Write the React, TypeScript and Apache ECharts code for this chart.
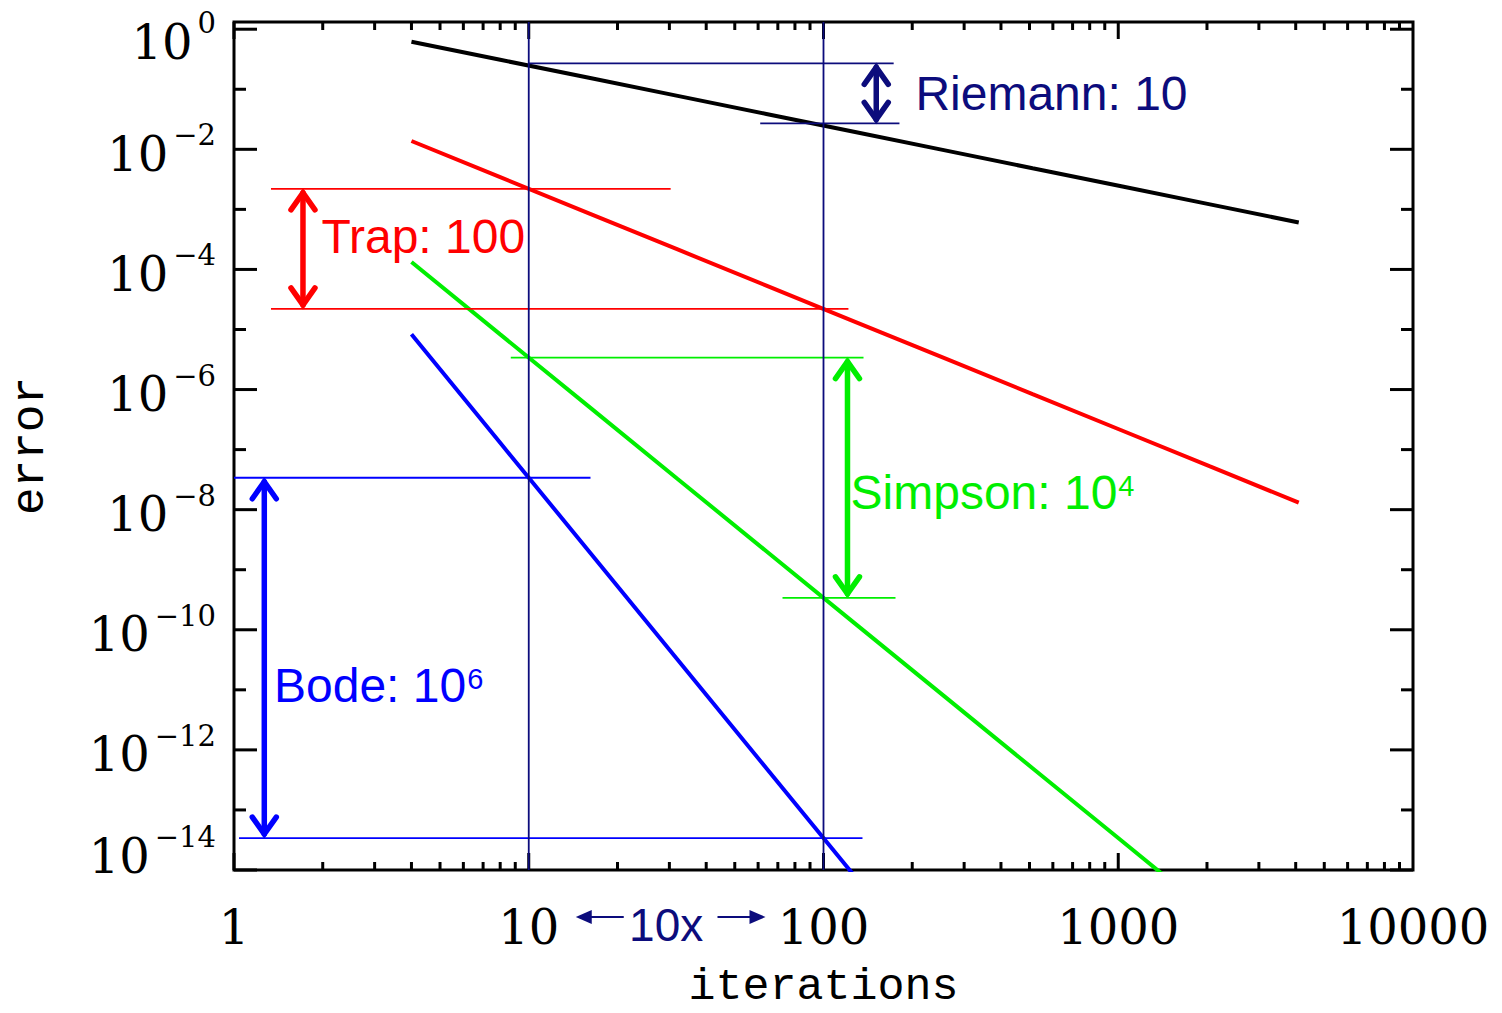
import React, { useEffect, useRef } from 'react';
import * as echarts from 'echarts';

// Iteration counts and the error of each integration rule at those counts
const iterations = [4, 8, 16, 32, 64, 128, 256, 512, 1024, 2048, 4096];
const riemannError = [0.62, 0.31, 0.155, 0.0775, 0.0388, 0.0194, 0.00969, 0.00484, 0.00242, 0.00121, 0.000605];
const trapError = [1.375e-2, 3.44e-3, 8.59e-4, 2.15e-4, 5.37e-5, 1.343e-5, 3.36e-6, 8.39e-7, 2.1e-7, 5.24e-8, 1.31e-8];
const simpsonError = [1.328e-4, 8.3e-6, 5.19e-7, 3.24e-8, 2.03e-9, 1.267e-10, 7.92e-12, 4.95e-13, 3.09e-14, 1.93e-15];
const bodeError = [8.3e-6, 1.297e-7, 2.03e-9, 3.17e-11, 4.95e-13, 7.73e-15];

// Axis tick labels
const xTickLabels = ['1', '10', '100', '1000', '10000'];
const yLabelExponents = [0, -2, -4, -6, -8, -10, -12, -14];

// Guide lines: [from iterations, to iterations, error level]
const riemannGuides = [[10, 173, 0.27], [61, 181, 0.027]];
const trapGuides = [[1.335, 30.3, 2.2e-3], [1.335, 121.5, 2.2e-5]];
const simpsonGuides = [[8.69, 136.7, 3.4e-6], [72.6, 175.5, 3.4e-10]];
const bodeGuides = [[1, 16.2, 3.4e-8], [1.04, 135.6, 3.4e-14]];
const markedIterations = [10, 100];

// Double arrows: [iterations, upper error, lower error]
const spanArrows = [[151, 0.27, 0.027], [1.714, 2.2e-3, 2.2e-5], [120.6, 3.4e-6, 3.4e-10], [1.267, 3.4e-8, 3.4e-14]];

// Notes: anchor [iterations, error], text and superscript
const noteAnchors = [[205, 0.084], [1.98, 3.5e-4], [123.5, 1.9e-8], [1.367, 1.2e-11]];
const noteText = ['Riemann: 10', 'Trap: 100', 'Simpson: 10', 'Bode: 10'];
const noteSup = ['', '', '4', '6'];

const ruleColors = ['#0c0c7c', '#ff0000', '#00ee00', '#0000ff'];
const lineColors = ['#000000', '#ff0000', '#00ee00', '#0000ff'];

const X_MIN = 0; // log10 of 1
const X_MAX = 4; // log10 of 10000
const Y_MIN = -14;
const Y_MAX = 0.12;

const lg = Math.log10;
const SERIF = 'DejaVu Serif';
const SANS = 'Liberation Sans';
const MONO = 'Liberation Mono';

function buildOption() {
  const curves = [riemannError, trapError, simpsonError, bodeError].map((errs, i) => ({
    type: 'line',
    data: errs.map((e, j) => [lg(iterations[j]), lg(e)]),
    showSymbol: false,
    symbol: 'none',
    clip: true,
    silent: true,
    z: 3,
    lineStyle: { color: lineColors[i], width: 4 },
  }));

  // Frame ticks: [x, y, side(0 bottom,1 top,2 left,3 right), length]
  const ticks: number[][] = [];
  for (let d = 0; d < 4; d++) {
    for (let k = 1; k < 10; k++) {
      const v = d + lg(k);
      const len = k === 1 ? 17 : 8;
      ticks.push([v, Y_MIN, 0, len]);
      ticks.push([v, Y_MAX, 1, len]);
    }
  }
  for (let e = Y_MIN; e <= 0; e++) {
    const len = e % 2 === 0 ? 23 : 12;
    ticks.push([X_MIN, e, 2, len]);
    ticks.push([X_MAX, e, 3, len]);
  }

  const segments: number[][] = [];
  [riemannGuides, trapGuides, simpsonGuides, bodeGuides].forEach((g, c) => {
    g.forEach(([a, b, e]) => segments.push([lg(a), lg(e), lg(b), lg(e), c]));
  });
  markedIterations.forEach((n) => segments.push([lg(n), Y_MIN, lg(n), Y_MAX, 0]));

  const arrows = spanArrows.map(([n, hi, lo], c) => [lg(n), lg(hi), lg(lo), c]);
  const notes = noteAnchors.map(([n, e], c) => [lg(n), lg(e), c]);

  return {
    animation: false,
    backgroundColor: '#ffffff',
    grid: {
      left: 234,
      right: 89,
      top: 22,
      bottom: 143,
      show: true,
      borderColor: '#000',
      borderWidth: 3,
      backgroundColor: 'transparent',
      containLabel: false,
      outerBoundsMode: 'none',
    },
    xAxis: {
      type: 'value',
      min: X_MIN,
      max: X_MAX,
      interval: 1,
      axisLine: { show: false },
      axisTick: { show: false },
      splitLine: { show: false },
      axisLabel: {
        margin: 33,
        fontFamily: SERIF,
        fontSize: 48,
        color: '#000',
        showMinLabel: true,
        showMaxLabel: true,
        formatter: (v: number) => xTickLabels[Math.round(v)] ?? '',
      },
      name: 'iterations',
      nameLocation: 'middle',
      nameGap: 102,
      nameMoveOverlap: false,
      nameTextStyle: { fontFamily: MONO, fontSize: 45, lineHeight: 30, color: '#000' },
    },
    yAxis: {
      type: 'value',
      min: Y_MIN,
      max: Y_MAX,
      interval: 1,
      axisLine: { show: false },
      axisTick: { show: false },
      splitLine: { show: false },
      axisLabel: {
        margin: 18,
        color: '#000',
        showMinLabel: true,
        showMaxLabel: false,
        formatter: (v: number) => {
          const e = Math.round(v);
          if (Math.abs(v - e) > 1e-6 || !yLabelExponents.includes(e)) return '';
          const sup = e === 0 ? '0' : '\u2212' + String(-e);
          const k = e === 0 ? 'T' : e === Y_MIN ? 'B' : '';
          return `{b${k}|10}{s${k}|${sup}}`;
        },
        rich: {
          b: { fontFamily: SERIF, fontSize: 48, color: '#000', padding: [9, 0, 0, 0] },
          s: { fontFamily: SERIF, fontSize: 29, color: '#000', verticalAlign: 'top', padding: [0, 0, 0, 5] },
          bT: { fontFamily: SERIF, fontSize: 48, color: '#000', padding: [25, 0, 0, 0] },
          sT: { fontFamily: SERIF, fontSize: 29, color: '#000', verticalAlign: 'top', padding: [16, 0, 0, 5] },
          bB: { fontFamily: SERIF, fontSize: 48, color: '#000', padding: [9, 0, 38, 0] },
          sB: { fontFamily: SERIF, fontSize: 29, color: '#000', verticalAlign: 'top', padding: [0, 0, 0, 5] },
        },
      },
      name: 'error',
      nameLocation: 'middle',
      nameGap: 180,
      nameMoveOverlap: false,
      nameTextStyle: { fontFamily: MONO, fontSize: 46, color: '#000' },
    },
    series: [
      ...curves,
      {
        type: 'custom',
        name: 'ticks',
        silent: true,
        z: 2,
        data: ticks,
        renderItem: (_p: any, api: any) => {
          const pt = api.coord([api.value(0), api.value(1)]);
          const side = api.value(2);
          const len = api.value(3);
          const dx = side === 2 ? len : side === 3 ? -len : 0;
          const dy = side === 0 ? -len : side === 1 ? len : 0;
          return {
            type: 'line',
            shape: { x1: pt[0], y1: pt[1], x2: pt[0] + dx, y2: pt[1] + dy },
            style: { stroke: '#000', lineWidth: 3 },
          };
        },
      },
      {
        type: 'custom',
        name: 'guides',
        silent: true,
        z: 4,
        data: segments,
        renderItem: (_p: any, api: any) => {
          const a = api.coord([api.value(0), api.value(1)]);
          const b = api.coord([api.value(2), api.value(3)]);
          return {
            type: 'line',
            shape: { x1: a[0], y1: a[1], x2: b[0], y2: b[1] },
            style: { stroke: ruleColors[api.value(4)], lineWidth: 1.8 },
          };
        },
      },
      {
        type: 'custom',
        name: 'spans',
        silent: true,
        z: 5,
        data: arrows,
        renderItem: (_p: any, api: any) => {
          const top = api.coord([api.value(0), api.value(1)]);
          const bot = api.coord([api.value(0), api.value(2)]);
          const x = top[0];
          const color = ruleColors[api.value(3)];
          const st = { stroke: color, lineWidth: 5.5, fill: 'none', lineCap: 'round', lineJoin: 'miter' };
          return {
            type: 'group',
            children: [
              { type: 'line', shape: { x1: x, y1: top[1] + 4, x2: x, y2: bot[1] - 4 }, style: st },
              { type: 'polyline', shape: { points: [[x - 12, top[1] + 21], [x, top[1] + 4], [x + 12, top[1] + 21]] }, style: st },
              { type: 'polyline', shape: { points: [[x - 12, bot[1] - 21], [x, bot[1] - 4], [x + 12, bot[1] - 21]] }, style: st },
            ],
          };
        },
      },
      {
        type: 'custom',
        name: 'notes',
        silent: true,
        z: 6,
        data: notes,
        renderItem: (_p: any, api: any) => {
          const pt = api.coord([api.value(0), api.value(1)]);
          const c = api.value(2);
          const color = ruleColors[c];
          const sup = noteSup[c];
          const text = `{m|${noteText[c]}}` + (sup ? `{s|${sup}}` : '');
          return {
            type: 'text',
            x: pt[0],
            y: pt[1],
            style: {
              text,
              fill: color,
              align: 'left',
              verticalAlign: 'middle',
              rich: {
                m: { fontFamily: SANS, fontSize: 48, fill: color, color },
                s: { fontFamily: SANS, fontSize: 29, fill: color, color, verticalAlign: 'top', padding: [3, 0, 0, 1] },
              },
            },
          };
        },
      },
      {
        type: 'custom',
        name: 'decade',
        silent: true,
        z: 6,
        data: [[lg(markedIterations[0]), lg(markedIterations[1])]],
        renderItem: (_p: any, api: any) => {
          const p10 = api.coord([api.value(0), Y_MIN]);
          const p100 = api.coord([api.value(1), Y_MIN]);
          const yb = p10[1];
          const ya = yb + 47;
          const color = ruleColors[0];
          const ls = { stroke: color, lineWidth: 2 };
          const fs = { fill: color };
          const l = p10[0];
          const r = p100[0];
          return {
            type: 'group',
            children: [
              { type: 'line', shape: { x1: l + 95, y1: ya, x2: l + 60, y2: ya }, style: ls },
              { type: 'polygon', shape: { points: [[l + 47, ya], [l + 63, ya - 7], [l + 63, ya + 7]] }, style: fs },
              { type: 'line', shape: { x1: r - 106, y1: ya, x2: r - 72, y2: ya }, style: ls },
              { type: 'polygon', shape: { points: [[r - 58, ya], [r - 74, ya - 7], [r - 74, ya + 7]] }, style: fs },
              {
                type: 'text',
                x: (l + r) / 2 - 10,
                y: yb + 55,
                style: { text: '10x', fill: color, fontFamily: SANS, fontSize: 46, align: 'center', verticalAlign: 'middle' },
              },
            ],
          };
        },
      },
    ],
  };
}

export default function App() {
  const ref = useRef<HTMLDivElement>(null);
  useEffect(() => {
    if (!ref.current) return;
    const chart = echarts.init(ref.current, undefined, { renderer: 'svg' });
    chart.setOption(buildOption() as any);
    return () => chart.dispose();
  }, []);
  return (
    <div
      ref={ref}
      style={{ position: 'fixed', left: 0, top: 0, width: 1502, height: 1013, background: '#ffffff' }}
    />
  );
}
